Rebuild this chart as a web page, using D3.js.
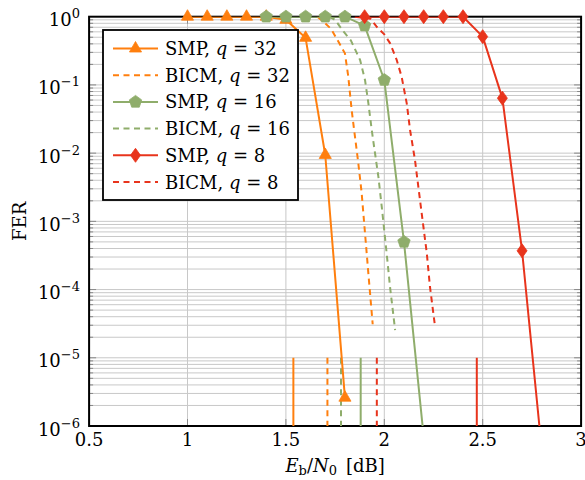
<!DOCTYPE html>
<html><head><meta charset="utf-8">
<script src="https://cdn.jsdelivr.net/npm/d3@7"></script>
<style>body{margin:0;background:#fff}svg{display:block}</style>
</head><body><svg id="c" width="585" height="480" font-family="'DejaVu Serif', 'Liberation Serif', serif"></svg>
<script>
// ---- data ----
const xTicks = [0.5, 1, 1.5, 2, 2.5, 3];
const xTickLabels = ["0.5", "1", "1.5", "2", "2.5", "3"];
const yDecades = [0, -1, -2, -3, -4, -5, -6];

const snrSMP32 = [1.0, 1.1, 1.2, 1.3, 1.4, 1.5, 1.6, 1.7, 1.8];
const ferSMP32 = [1, 1, 1, 1, 1, 0.9, 0.49, 9.4e-3, 2.6e-6];
const snrBICM32 = [1.66, 1.70, 1.73, 1.765, 1.80, 1.817, 1.834, 1.851, 1.868, 1.885, 1.902, 1.919, 1.941];
const ferBICM32 = [1, 0.8, 0.66, 0.44, 0.29, 0.132, 0.043, 0.0174, 7.1e-3, 2.6e-3, 6.7e-4, 1.73e-4, 3.1e-5];

const snrSMP16 = [1.4, 1.5, 1.6, 1.7, 1.8, 1.9, 2.0, 2.1, 2.2];
const ferSMP16 = [1, 1, 1, 1, 1, 0.74, 0.118, 5.0e-4, 7e-7];
const snrBICM16 = [1.72, 1.75, 1.79, 1.83, 1.877, 1.902, 1.919, 1.936, 1.953, 1.970, 1.987, 2.012, 2.029, 2.055];
const ferBICM16 = [1, 0.9, 0.62, 0.45, 0.232, 0.118, 0.054, 0.022, 9.9e-3, 4.5e-3, 1.64e-3, 3.4e-4, 1.1e-4, 2.55e-5];

const snrSMP8 = [1.9, 2.0, 2.1, 2.2, 2.3, 2.4, 2.5, 2.6, 2.7, 2.8];
const ferSMP8 = [1, 1, 1, 1, 1, 1, 0.51, 0.064, 3.7e-4, 4.5e-7];
const snrBICM8 = [1.85, 1.93, 1.96, 2.00, 2.029, 2.063, 2.088, 2.114, 2.131, 2.156, 2.173, 2.190, 2.216, 2.232, 2.258];
const ferBICM8 = [1, 0.93, 0.72, 0.55, 0.41, 0.232, 0.132, 0.0537, 0.0218, 7.9e-3, 3.2e-3, 1.31e-3, 3.4e-4, 1.1e-4, 2.85e-5];

// vertical threshold markers (Eb/N0 limits), drawn from FER 1e-5 down to 1e-6
const limitX = [1.538, 1.711, 1.880, 1.780, 2.470, 1.962];
const limitFER = [1e-5, 1e-6];

const legendLabels = [["SMP, ", "q", " = 32"], ["BICM, ", "q", " = 32"], ["SMP, ", "q", " = 16"], ["BICM, ", "q", " = 16"], ["SMP, ", "q", " = 8"], ["BICM, ", "q", " = 8"]];

// ---- styles ----
const ORANGE = "#ff7f0e", GREEN = "#8fad6b", RED = "#e8341c";
const series = [
  {x: snrSMP32, y: ferSMP32, color: ORANGE, dash: null, marker: "triangle"},
  {x: snrBICM32, y: ferBICM32, color: ORANGE, dash: "6,4.5", marker: null},
  {x: snrSMP16, y: ferSMP16, color: GREEN, dash: null, marker: "pentagon"},
  {x: snrBICM16, y: ferBICM16, color: GREEN, dash: "6,4.5", marker: null},
  {x: snrSMP8, y: ferSMP8, color: RED, dash: null, marker: "diamond"},
  {x: snrBICM8, y: ferBICM8, color: RED, dash: "6,4.5", marker: null}
];

const svg = d3.select("#c");
const L = 89.1, R = 581.1, T = 16.7, B = 426;
const x = d3.scaleLinear().domain([0.5, 3]).range([L, R]);
const y = d3.scaleLog().domain([1e-6, 1]).range([B, T]);

svg.append("defs").append("clipPath").attr("id", "clip")
  .append("rect").attr("x", L).attr("y", T).attr("width", R - L).attr("height", B - T);

// grid
const grid = svg.append("g");
const minorVals = [];
for (let e = -6; e < 0; e++) for (let m = 1; m < 10; m++) minorVals.push(m * Math.pow(10, e));
grid.selectAll("line.h").data(minorVals).join("line")
  .attr("x1", L).attr("x2", R).attr("y1", d => y(d)).attr("y2", d => y(d))
  .attr("stroke", "#c8c8c8").attr("stroke-width", 1);
grid.selectAll("line.v").data(xTicks).join("line")
  .attr("y1", T).attr("y2", B).attr("x1", d => x(d)).attr("x2", d => x(d))
  .attr("stroke", "#c8c8c8").attr("stroke-width", 1);

// ticks
const tk = svg.append("g").attr("stroke", "#888").attr("stroke-width", 1);
minorVals.forEach(v => {
  const isMaj = Math.abs(Math.log10(v) - Math.round(Math.log10(v))) < 1e-9;
  const len = isMaj ? 7 : 4;
  tk.append("line").attr("x1", L).attr("x2", L + len).attr("y1", y(v)).attr("y2", y(v));
  tk.append("line").attr("x1", R).attr("x2", R - len).attr("y1", y(v)).attr("y2", y(v));
});
xTicks.forEach(v => {
  tk.append("line").attr("x1", x(v)).attr("x2", x(v)).attr("y1", B).attr("y2", B - 7);
  tk.append("line").attr("x1", x(v)).attr("x2", x(v)).attr("y1", T).attr("y2", T + 7);
});

// frame
svg.append("rect").attr("x", L).attr("y", T).attr("width", R - L).attr("height", B - T)
  .attr("fill", "none").attr("stroke", "#000").attr("stroke-width", 2);

// tick labels
xTicks.forEach((v, i) => {
  svg.append("text").attr("x", x(v)).attr("y", 446).attr("text-anchor", "middle")
    .attr("font-size", 18).text(xTickLabels[i]);
});
yDecades.forEach(e => {
  const t = svg.append("text").attr("x", 80).attr("y", y(Math.pow(10, e)) + 9.5)
    .attr("text-anchor", "end").attr("font-size", 18);
  t.append("tspan").text("10");
  t.append("tspan").attr("font-size", 13).attr("dy", -8).text(e === 0 ? "0" : "\u2212" + (-e));
});

// axis labels
const xl = svg.append("text").attr("x", (L + R) / 2).attr("y", 472).attr("text-anchor", "middle").attr("font-size", 18);
xl.append("tspan").attr("font-style", "italic").text("E");
xl.append("tspan").attr("font-size", 13).attr("dy", 3).text("b");
xl.append("tspan").attr("dy", -3).text("/");
xl.append("tspan").attr("font-style", "italic").text("N");
xl.append("tspan").attr("font-size", 13).attr("dy", 3).text("0");
xl.append("tspan").attr("dy", -3).text("\u2002[dB]");

svg.append("text").attr("transform", `translate(26,${(T + B) / 2}) rotate(-90)`)
  .attr("text-anchor", "middle").attr("font-size", 18).text("FER");

// limit lines
const lim = svg.append("g").attr("clip-path", "url(#clip)");
limitX.forEach((v, i) => {
  lim.append("line").attr("x1", x(v)).attr("x2", x(v)).attr("y1", y(limitFER[0])).attr("y2", y(limitFER[1]))
    .attr("stroke", series[i].color).attr("stroke-width", 2)
    .attr("stroke-dasharray", series[i].dash);
});

// markers
function markerPath(type) {
  if (type === "triangle") {
    const r = 7;
    return `M0,${-r}L${r * 0.866},${r * 0.5}L${-r * 0.866},${r * 0.5}Z`;
  }
  if (type === "pentagon") {
    const r = 6.5; let p = "";
    for (let k = 0; k < 5; k++) {
      const a = -Math.PI / 2 + k * 2 * Math.PI / 5;
      p += (k ? "L" : "M") + (r * Math.cos(a)).toFixed(2) + "," + (r * Math.sin(a)).toFixed(2);
    }
    return p + "Z";
  }
  if (type === "diamond") return "M0,-7L5,0L0,7L-5,0Z";
  return "";
}

const line = d3.line().x(d => x(d[0])).y(d => y(d[1]));
series.forEach(s => {
  const pts = s.x.map((v, i) => [v, s.y[i]]);
  svg.append("path").attr("clip-path", "url(#clip)").datum(pts).attr("d", line)
    .attr("fill", "none").attr("stroke", s.color).attr("stroke-width", 2)
    .attr("stroke-linejoin", "round").attr("stroke-dasharray", s.dash);
  if (s.marker) {
    svg.append("g").selectAll("path").data(pts.filter(d => d[1] >= 1e-6)).join("path")
      .attr("d", markerPath(s.marker))
      .attr("transform", d => `translate(${x(d[0])},${y(d[1])})`)
      .attr("fill", s.color).attr("stroke", s.color).attr("stroke-width", 0.8);
  }
});

// legend
const lg = svg.append("g");
lg.append("rect").attr("x", 103).attr("y", 30).attr("width", 195).attr("height", 170)
  .attr("fill", "#fff").attr("stroke", "#000").attr("stroke-width", 1.8);
series.forEach((s, i) => {
  const cy = 48.5 + i * 26.7;
  lg.append("line").attr("x1", 113).attr("x2", 158).attr("y1", cy).attr("y2", cy)
    .attr("stroke", s.color).attr("stroke-width", 2).attr("stroke-dasharray", s.dash);
  if (s.marker) lg.append("path").attr("d", markerPath(s.marker))
    .attr("transform", `translate(135.5,${cy})`).attr("fill", s.color).attr("stroke", s.color).attr("stroke-width", 0.8);
  const t = lg.append("text").attr("x", 165).attr("y", cy + 6.5).attr("font-size", 18);
  t.append("tspan").text(legendLabels[i][0]);
  t.append("tspan").attr("font-style", "italic").text(legendLabels[i][1]);
  t.append("tspan").text(legendLabels[i][2]);
});
</script></body></html>
